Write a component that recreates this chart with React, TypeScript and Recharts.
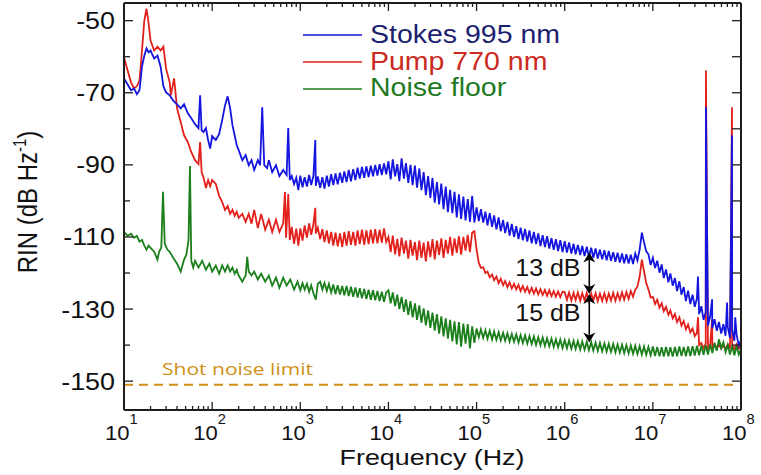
import React from 'react';
import { LineChart, Line, XAxis, YAxis, ReferenceLine, Legend } from 'recharts';

type P = [number, number];

// Frequency grid (mantissas) used for the dense, noisy decades 10^3 .. 10^8
const grid = [1.00,1.06,1.12,1.19,1.26,1.33,1.41,1.50,1.58,1.68,1.78,1.88,2.00,2.11,2.24,2.37,2.51,2.66,2.82,2.99,3.16,3.35,3.55,3.76,3.98,4.22,4.47,4.73,5.01,5.31,5.62,5.96,6.31,6.68,7.08,7.50,7.94,8.41,8.91,9.44];

// ---------- Stokes 995 nm ----------
const stokesLow: P[] = [
  [10,-66],[11,-67.7],[12,-69.3],[13,-68.8],[14,-70.4],[15,-69.3],[16,-62.7],[17,-59.7],[18,-57.7],[19,-58.8],[20,-58.3],[22,-60.5],[24,-59.7],[26,-62.7],[28,-68.2],[30,-69.9],[33,-70.7],[36,-72.1],[40,-73.2],[44,-74.3],[48,-73.2],[53,-75.7],[58,-77.1],[64,-78.7],[70,-79.8],[73,-70.7],[76,-80.4],[80,-80.9],[85,-79.8],[90,-83.1],[95,-85.5],[100,-82],
  [110,-83.1],[120,-81.5],[130,-77.6],[140,-73.5],[150,-71],[160,-74.3],[170,-79],[180,-81.8],[190,-84.5],[200,-85.9],[220,-88.7],[240,-87.3],[260,-90.1],[280,-88.7],[300,-91.4],[330,-88.7],[350,-90.1],[370,-74],[390,-90.1],[420,-90.9],[440,-88.7],[480,-92],[530,-90.1],[580,-93.1],[640,-91.4],[700,-92.8],[730,-79.8],[760,-94.2],[800,-93.1],[850,-95.3],[900,-93.6],[950,-97],
];
const stokesD3 = [-93.0,-96.2,-93.4,-96.0,-92.8,-95.6,-93.0,-95.8,-93.2,-96.4,-93.4,-96.6,-93.0,-96.0,-92.6,-95.6,-92.4,-95.4,-92.2,-95.0,-91.8,-94.8,-91.4,-94.6,-91.2,-94.2,-90.8,-93.8,-90.6,-93.6,-90.4,-93.4,-90.2,-93.2,-90.0,-93.0,-89.8,-92.8,-89.6,-92.6];
const stokesD4 = [-89.0,-94.0,-88.5,-93.2,-89.8,-94.5,-88.2,-93.8,-89.5,-95.0,-90.0,-95.6,-90.2,-96.3,-91.0,-97.0,-92.0,-98.4,-93.1,-99.2,-93.6,-100.5,-94.8,-101.0,-95.2,-102.3,-96.0,-103.1,-96.9,-103.4,-97.5,-104.6,-98.2,-105.0,-98.8,-105.4,-99.5,-105.8,-98.6,-106.0];
const stokesD5 = [-101.8,-105.6,-102.3,-106.0,-103.0,-106.8,-103.4,-107.2,-104.0,-107.9,-104.6,-108.4,-105.3,-108.9,-105.8,-109.6,-106.4,-110.0,-107.0,-110.6,-107.4,-110.9,-107.8,-111.3,-108.2,-111.8,-108.6,-112.0,-109.0,-112.5,-109.5,-112.8,-109.8,-113.2,-110.3,-113.6,-110.6,-113.9,-110.9,-114.2];
const stokesD6 = [-111.2,-114.3,-111.5,-114.6,-111.9,-114.8,-112.2,-115.0,-112.5,-115.3,-112.7,-115.5,-113.0,-115.8,-113.2,-116.0,-113.5,-116.2,-113.7,-116.5,-113.9,-116.6,-114.2,-116.9,-114.4,-117.1,-114.6,-117.3,-114.8,-117.4,-114.9,-117.5,-114.6,-116.5,-113.5,-108.8,-111.5,-114.0,-114.8,-117.8];
const stokesD7 = [-115.8,-118.6,-116.6,-119.9,-117.6,-121.4,-119.0,-122.6,-120.1,-123.5,-121.4,-125.0,-122.3,-126.0,-123.9,-127.8,-124.9,-128.6,-126.0,-129.4,-127.0,-131.4,-129.2,-133.0,-130.8,-134.6,-132.0,-135.3,-132.8,-136.0,-133.6,-136.8,-134.2,-137.4,-135.0,-138.0,-135.8,-138.8,-137.0,-140.2];
const stokesSpikes: P[] = [[1480,-83.1],[3.25e7,-121],[4.0e7,-74],[4.7e7,-127.3],[6.95e7,-128.2],[7.9e7,-81.8],[8.6e7,-132.3],[1e8,-138.6]];

// ---------- Pump 770 nm ----------
const pumpLow: P[] = [
  [10,-60.2],[11,-63.8],[12,-67.1],[13,-68.8],[14,-68.2],[15,-66.6],[16,-58.3],[17,-50],[18,-46.7],[19,-50.6],[20,-55.5],[22,-58.3],[24,-57.2],[26,-58.3],[28,-57.2],[30,-63.3],[33,-67.1],[34,-70.7],[37,-66],[40,-74.3],[44,-78.2],[48,-81.8],[53,-83.7],[58,-86.5],[64,-88.7],[70,-89.8],[73,-83.7],[76,-92],[80,-93.6],[85,-96.4],[90,-94.2],[95,-95.9],[100,-94.2],
  [110,-95.3],[120,-98.6],[130,-100.3],[140,-102.5],[150,-101.4],[160,-103.6],[170,-102.5],[180,-104.1],[190,-103],[200,-104.7],[220,-103.6],[240,-105.8],[260,-103.6],[280,-106.3],[300,-102.5],[330,-107.5],[360,-103.6],[400,-108],[440,-105.2],[480,-108.6],[530,-105.2],[580,-108.6],[640,-106.3],[670,-97.5],[690,-110.2],[730,-98.1],[760,-110.8],[800,-107.2],[850,-111.9],[900,-107.7],[950,-112.4],
];
const pumpD3 = [-107.6,-111.0,-106.8,-110.2,-106.2,-109.4,-106.4,-109.0,-107.4,-110.6,-107.8,-111.4,-108.2,-111.8,-108.6,-112.4,-108.8,-112.6,-109.0,-112.8,-108.6,-112.4,-108.4,-112.2,-108.6,-112.4,-108.2,-112.0,-108.0,-112.2,-108.2,-112.0,-108.0,-111.8,-107.8,-111.8,-108.0,-111.6,-107.6,-111.4];
const pumpD4 = [-110.0,-114.2,-109.6,-114.8,-110.5,-115.4,-110.2,-114.6,-111.0,-116.0,-110.8,-115.2,-111.4,-116.4,-111.0,-115.8,-111.6,-116.8,-111.2,-115.6,-110.6,-116.2,-111.0,-115.0,-110.4,-115.8,-110.8,-114.6,-110.0,-115.2,-110.4,-114.4,-109.8,-114.9,-110.0,-113.8,-109.4,-114.2,-108.8,-108.4];
const pumpD5 = [-113.5,-117.2,-118.6,-118.4,-120.0,-119.6,-121.2,-120.4,-122.0,-121.0,-122.8,-121.6,-123.4,-122.2,-123.9,-122.6,-124.3,-123.0,-124.6,-123.3,-125.0,-123.6,-125.2,-123.9,-125.5,-124.1,-125.7,-124.3,-125.9,-124.5,-126.1,-124.7,-126.3,-124.8,-126.4,-125.0,-126.6,-125.1,-126.7,-125.2];
const pumpD6 = [-125.3,-127.4,-125.4,-127.6,-125.5,-127.5,-125.4,-127.7,-125.6,-127.6,-125.5,-127.8,-125.7,-127.6,-125.6,-127.8,-125.7,-127.7,-125.6,-127.8,-125.7,-127.6,-125.5,-127.7,-125.6,-127.5,-125.4,-127.4,-125.3,-127.2,-125.0,-126.6,-124.6,-123.8,-121.0,-116.3,-119.5,-122.8,-124.6,-126.8];
const pumpD7 = [-126.6,-128.6,-127.4,-129.6,-128.4,-130.6,-129.4,-131.6,-130.4,-132.6,-131.4,-133.6,-132.3,-134.6,-133.3,-135.6,-134.3,-136.5,-135.4,-137.5,-136.6,-140.0,-139.4,-140.8,-139.6,-140.9,-139.8,-141.0,-139.7,-140.9,-139.8,-141.0,-139.9,-141.1,-139.8,-141.0,-139.9,-141.1,-139.8,-141.0];
const pumpSpikes: P[] = [[1480,-101.9],[3.25e7,-132.3],[4.0e7,-63.8],[4.7e7,-132.9],[7.9e7,-74],[1e8,-140.2]];

// ---------- Noise floor ----------
const noiseLow: P[] = [
  [10,-108.6],[11,-109.7],[12,-109.1],[13,-110.2],[14,-109.7],[15,-111.3],[16,-110.8],[17,-112.4],[18,-113.5],[19,-112.4],[20,-113],[22,-114.1],[24,-116.3],[25,-114.1],[26.5,-112.9],[27.7,-97.5],[29,-111.9],[31,-113.5],[33,-114.1],[36,-115.7],[40,-117.4],[44,-119.6],[48,-116.3],[51,-114.9],[54,-110.8],[56,-90.3],[58,-116.6],[61,-118.5],[64,-116.6],[70,-118.5],[77,-116.6],[85,-119.1],[93,-117.4],[100,-119.6],
  [110,-117.9],[120,-120.2],[130,-117.9],[140,-119.6],[150,-117.9],[160,-119.6],[170,-118.5],[180,-120.2],[190,-119.1],[200,-120.7],[220,-122.4],[240,-120.7],[250,-115.5],[260,-119.6],[280,-120.7],[300,-119.6],[330,-121.8],[360,-120.2],[400,-122.4],[440,-120.7],[480,-123.5],[530,-121.3],[580,-124.1],[640,-121.3],[700,-123.5],[770,-121.8],[850,-124.6],[930,-122.4],
];
const noiseD3 = [-124.8,-122.8,-124.6,-123.0,-125.2,-123.4,-125.6,-127.4,-123.0,-122.4,-124.6,-122.8,-125.0,-123.0,-125.4,-123.2,-125.8,-123.4,-126.0,-123.6,-126.2,-123.6,-126.4,-123.8,-126.6,-124.0,-126.8,-124.2,-127.0,-124.4,-127.2,-124.6,-127.4,-124.8,-127.6,-125.0,-127.8,-125.2,-128.0,-125.4];
const noiseD4 = [-124.8,-128.4,-125.4,-129.2,-126.0,-130.0,-126.6,-130.8,-127.3,-131.6,-127.8,-132.3,-128.4,-133.0,-129.0,-133.8,-129.8,-134.5,-130.4,-135.2,-131.0,-136.0,-131.4,-136.8,-132.0,-137.6,-132.6,-138.2,-133.0,-139.0,-133.4,-139.8,-133.6,-140.4,-134.0,-139.6,-134.2,-140.9,-134.8,-139.4];
const noiseD5 = [-135.4,-137.8,-135.6,-138.0,-135.9,-138.2,-136.0,-138.4,-136.2,-138.5,-136.4,-138.7,-136.6,-138.8,-136.7,-139.0,-136.9,-139.1,-137.0,-139.3,-137.2,-139.4,-137.3,-139.6,-137.5,-139.7,-137.6,-139.9,-137.8,-140.0,-137.9,-140.2,-138.1,-140.3,-138.2,-140.5,-138.4,-140.6,-138.5,-140.8];
const noiseD6 = [-138.6,-140.9,-138.7,-141.0,-138.8,-141.1,-138.9,-141.2,-139.0,-141.3,-139.1,-141.4,-139.2,-141.5,-139.3,-141.6,-139.4,-141.7,-139.5,-141.8,-139.6,-141.9,-139.7,-142.0,-139.8,-142.1,-139.9,-142.2,-140.0,-142.3,-140.1,-142.4,-140.2,-142.5,-140.3,-142.6,-140.4,-142.7,-140.5,-142.8];
const noiseD7 = [-140.4,-143.0,-140.5,-143.1,-140.6,-143.2,-140.5,-143.1,-140.6,-143.2,-140.5,-143.1,-140.4,-143.0,-140.5,-143.1,-140.4,-143.0,-140.3,-142.9,-140.2,-142.8,-140.1,-142.7,-140.0,-142.6,-139.8,-142.2,-139.4,-141.6,-138.4,-140.8,-139.2,-142.0,-140.0,-142.6,-140.2,-142.8,-140.3,-142.6];
const noiseEnd: P[] = [[1e8,-141.2]];

// ---------- axes, annotations ----------
const xMajor = [10, 1e2, 1e3, 1e4, 1e5, 1e6, 1e7, 1e8];
const xExp = ['1', '2', '3', '4', '5', '6', '7', '8'];
const minorMult = [2, 3, 4, 5, 6, 7, 8, 9];
const yMajor = [-150, -130, -110, -90, -70, -50];
const yMinor = [-140, -120, -100, -80, -60];
const xDomain = [10, 1e8];
const yDomain = [-158, -45.1];

const shotNoise = -151;
const shotNoiseEnd = 8.4e7;
const shotLabel = 'Shot noise limit';
const arrowFreq = 1.9e6;
const arrowTop = -114.3;
const arrowMid = -125.8;
const arrowBottom = -139.3;
const gapLabels = ['13 dB', '15 dB'];

const seriesNames = ['Stokes 995 nm', 'Pump 770 nm', 'Noise floor'];
const lineColors = ['#1515e0', '#e3211c', '#1b7f1b'];
const textColors = ['#1c1f70', '#cc2a22', '#1f7a1f'];
const shotColor = '#cf9015';

const fromGrid = (decade: number, vals: number[]): P[] => vals.map((v, i) => [grid[i] * decade, v]);
const build = (low: P[], decades: number[][], extra: P[]) =>
  [...low, ...decades.flatMap((vals, k) => fromGrid(1e3 * Math.pow(10, k), vals)), ...extra]
    .sort((a, b) => a[0] - b[0])
    .map(([f, v]) => ({ f, v }));

const stokesRows = build(stokesLow, [stokesD3, stokesD4, stokesD5, stokesD6, stokesD7], stokesSpikes);
const pumpRows = build(pumpLow, [pumpD3, pumpD4, pumpD5, pumpD6, pumpD7], pumpSpikes);
const noiseRows = build(noiseLow, [noiseD3, noiseD4, noiseD5, noiseD6, noiseD7], noiseEnd);

const xTicks = [...xMajor, ...xMajor.slice(0, -1).flatMap((d) => minorMult.map((m) => d * m))].sort((a, b) => a - b);
const yTicks = [...yMajor, ...yMinor].sort((a, b) => a - b);

const FONT = '"Liberation Sans", Arial, Helvetica, sans-serif';
const AX = '#1e1e1e';

const XTickBottom = (props: any) => {
  const { x, y, payload } = props;
  const i = xMajor.indexOf(payload.value);
  const major = i >= 0;
  return (
    <g>
      <line x1={x} x2={x} y1={y} y2={y - (major ? 8 : 4)} stroke={AX} strokeWidth={1.3} />
      {major && (
        <text transform={`translate(${x - 19},${y + 30}) scale(1.05,1)`} fontFamily={FONT} fontSize={21} fill="#111">
          10<tspan dy={-16} fontSize={14}>{xExp[i]}</tspan>
        </text>
      )}
    </g>
  );
};

const XTickTop = (props: any) => {
  const { x, y, payload } = props;
  const major = xMajor.indexOf(payload.value) >= 0;
  return <line x1={x} x2={x} y1={y} y2={y + (major ? 8 : 4)} stroke={AX} strokeWidth={1.3} />;
};

const YTickLeft = (props: any) => {
  const { x, y, payload } = props;
  const major = yMajor.indexOf(payload.value) >= 0;
  return (
    <g>
      <line x1={x} x2={x + (major ? 9 : 6)} y1={y} y2={y} stroke={AX} strokeWidth={1.3} />
      {major && (
        <text transform={`translate(${x - 9},${y + 8.5}) scale(1.12,1)`} textAnchor="end" fontFamily={FONT} fontSize={24} fill="#111">
          {payload.value}
        </text>
      )}
    </g>
  );
};

const YTickRight = (props: any) => {
  const { x, y } = props;
  return <line x1={x} x2={x - 9} y1={y} y2={y} stroke={AX} strokeWidth={1.3} />;
};

const LegendBox = () => (
  <svg width={300} height={90} style={{ overflow: 'visible' }}>
    {seriesNames.map((n, i) => (
      <g key={n}>
        <line x1={13} x2={72} y1={20 + i * 27} y2={20 + i * 27} stroke={lineColors[i]} strokeWidth={1.6} />
        <text transform={`translate(80,${28 + i * 26.5}) scale(1.14,1)`} fontFamily={FONT} fontSize={25} fill={textColors[i]}>
          {n}
        </text>
      </g>
    ))}
  </svg>
);

const ShotShape = (p: any) => (
  <g>
    <line x1={p.x1} y1={p.y1} x2={p.x2} y2={p.y2} stroke={shotColor} strokeWidth={2} strokeDasharray="9 6" />
    <text x={p.x1 + 38} y={p.y1 - 10} fontFamily='"Open Sans", sans-serif' fontSize={16} fill={shotColor} textLength={151} lengthAdjust="spacingAndGlyphs">
      {shotLabel}
    </text>
  </g>
);

const arrowShape = (label: string) => (p: any) => {
  const x = p.x1;
  const top = Math.min(p.y1, p.y2);
  const bot = Math.max(p.y1, p.y2);
  return (
    <g>
      <line x1={x} x2={x} y1={top + 2} y2={bot - 2} stroke="#000" strokeWidth={1.6} />
      <path d={`M${x},${top} L${x - 6},${top + 10} L${x},${top + 7} L${x + 6},${top + 10} Z`} fill="#000" />
      <path d={`M${x},${bot} L${x - 6},${bot - 10} L${x},${bot - 7} L${x + 6},${bot - 10} Z`} fill="#000" />
      <text transform={`translate(${x - 74},${(top + bot) / 2 + 3}) scale(1.04,1)`} fontFamily={FONT} fontSize={24} fill="#111">
        {label}
      </text>
    </g>
  );
};

export default function App() {
  return (
    <div style={{ position: 'absolute', left: 0, top: 0, background: '#fff' }}>
      <LineChart width={761} height={475} margin={{ top: 2, right: 19, bottom: 5, left: 64 }}>
        <XAxis xAxisId="b" dataKey="f" type="number" scale="log" domain={xDomain} ticks={xTicks} interval={0}
          allowDataOverflow height={60} tickSize={0} tickMargin={0} tickLine={false}
          axisLine={{ stroke: AX, strokeWidth: 2 }} tick={(p: any) => <XTickBottom {...p} />} />
        <XAxis xAxisId="t" orientation="top" dataKey="f" type="number" scale="log" domain={xDomain} ticks={xTicks} interval={0}
          allowDataOverflow height={1} tickSize={0} tickMargin={0} tickLine={false}
          axisLine={{ stroke: AX, strokeWidth: 2 }} tick={(p: any) => <XTickTop {...p} />} />
        <YAxis yAxisId="l" type="number" domain={yDomain} ticks={yTicks} interval={0} allowDataOverflow width={60}
          tickSize={0} tickMargin={0} tickLine={false} axisLine={{ stroke: AX, strokeWidth: 2 }}
          tick={(p: any) => <YTickLeft {...p} />} />
        <YAxis yAxisId="r" orientation="right" type="number" domain={yDomain} ticks={yTicks} interval={0} allowDataOverflow width={1}
          tickSize={0} tickMargin={0} tickLine={false} axisLine={{ stroke: AX, strokeWidth: 2 }}
          tick={(p: any) => <YTickRight {...p} />} />
        <ReferenceLine xAxisId="b" yAxisId="l" segment={[{ x: 10, y: shotNoise }, { x: shotNoiseEnd, y: shotNoise }]}
          ifOverflow="visible" shape={ShotShape} />
        <Line xAxisId="b" yAxisId="l" data={pumpRows} dataKey="v" name={seriesNames[1]} type="linear" stroke={lineColors[1]}
          strokeWidth={1.8} dot={false} isAnimationActive={false} />
        <Line xAxisId="b" yAxisId="l" data={noiseRows} dataKey="v" name={seriesNames[2]} type="linear" stroke={lineColors[2]}
          strokeWidth={1.8} dot={false} isAnimationActive={false} />
        <Line xAxisId="b" yAxisId="l" data={stokesRows} dataKey="v" name={seriesNames[0]} type="linear" stroke={lineColors[0]}
          strokeWidth={1.8} dot={false} isAnimationActive={false} />
        <ReferenceLine xAxisId="b" yAxisId="l" segment={[{ x: arrowFreq, y: arrowTop }, { x: arrowFreq, y: arrowMid }]}
          ifOverflow="visible" shape={arrowShape(gapLabels[0])} />
        <ReferenceLine xAxisId="b" yAxisId="l" segment={[{ x: arrowFreq, y: arrowMid }, { x: arrowFreq, y: arrowBottom }]}
          ifOverflow="visible" shape={arrowShape(gapLabels[1])} />
        <Legend layout="horizontal" verticalAlign="middle" align="center"
          wrapperStyle={{ left: 290, top: 15, width: 300, height: 90 }} content={() => <LegendBox />} />
      </LineChart>
      <div style={{ position: 'absolute', left: 0, top: 0, width: 761, height: 475, pointerEvents: 'none' }}>
        <svg width={761} height={475}>
          <text transform="translate(37,202) scale(1.17,1) rotate(-90)" textAnchor="middle" fontFamily={FONT} fontSize={24} fill="#111">
            RIN (dB Hz<tspan dy={-9} fontSize={15}>-1</tspan><tspan dy={9}>)</tspan>
          </text>
          <text transform="translate(432,465) scale(1.22,1)" textAnchor="middle" fontFamily={FONT} fontSize={22} fill="#111">
            Frequency (Hz)
          </text>
        </svg>
      </div>
    </div>
  );
}
